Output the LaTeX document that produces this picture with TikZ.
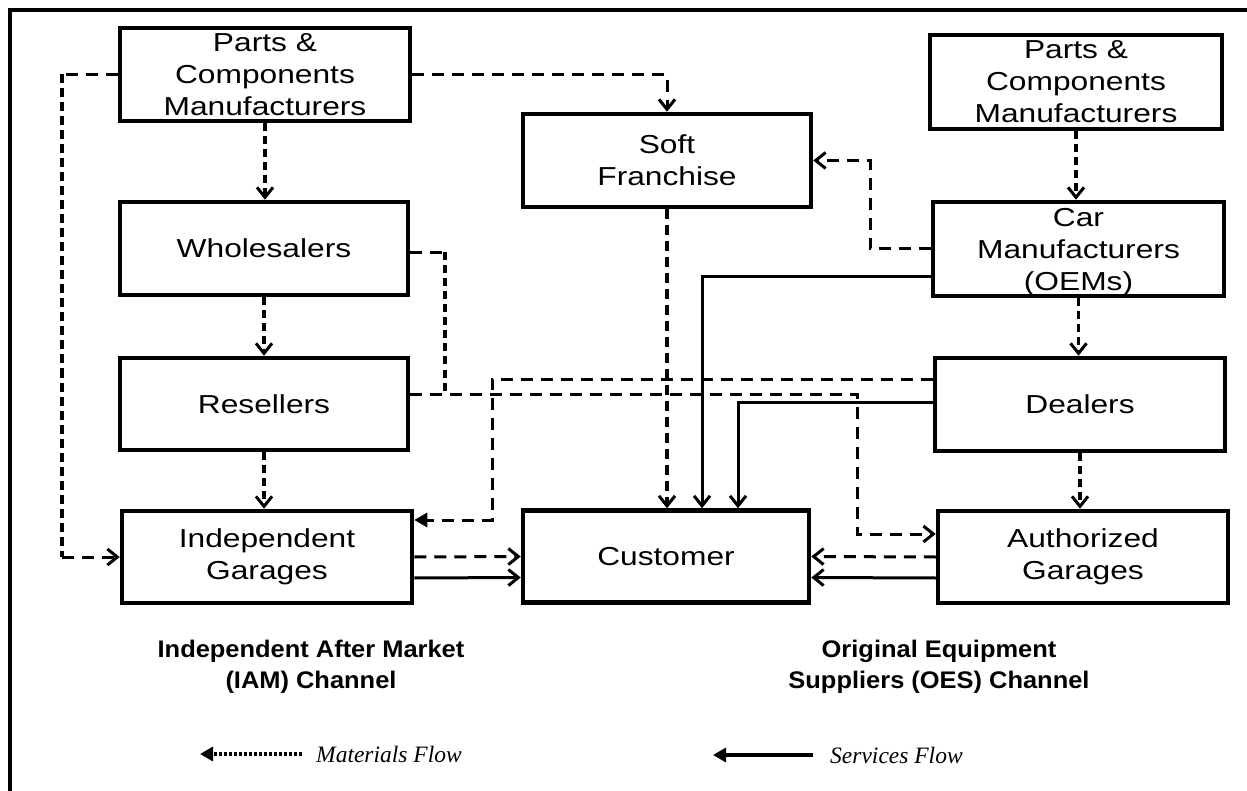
\documentclass[tikz,border=0pt]{standalone}
\usepackage{fontspec}
\setmainfont{Liberation Sans}
\newfontfamily\boxfont{Liberation Sans}[FakeStretch=1.22]
\newfontfamily\labfont{Liberation Sans}[FakeStretch=1.06]
\newfontfamily\legfont{Liberation Serif}
\usetikzlibrary{arrows.meta}
\begin{document}
\begin{tikzpicture}[x=1pt,y=-1pt,
  box/.style={draw, line width=4.5pt, align=center, inner sep=0pt,
    font=\boxfont\fontsize{26}{32}\selectfont},
  vdash/.style={line width=3.8pt, dash pattern=on 8pt off 5pt},
  mdash/.style={line width=3.2pt, dash pattern=on 10pt off 6pt},
  ldash/.style={line width=4.2pt, dash pattern=on 9pt off 5pt},
  hdash/.style={line width=3pt, dash pattern=on 12pt off 8pt},
  solidline/.style={line width=3pt},
  barb/.style={-{Straight Barb[length=10pt,width=16pt,line width=3pt]}},
  tri/.style={-{Triangle[length=13pt,width=14pt]}},
  chan/.style={align=center, font=\labfont\bfseries\fontsize{24}{31}\selectfont},
  leg/.style={anchor=west, inner sep=0pt, font=\legfont\itshape\fontsize{23.5}{28}\selectfont}]
\useasboundingbox (0,0) rectangle (1247,791);
% frame
\draw[line width=3.2pt] (10,791) -- (10,10) -- (1247,10);

% boxes
\node[box, minimum width=290pt, minimum height=93pt] (pcmL) at (265,74.5) {Parts \&\\Components\\Manufacturers};
\node[box, minimum width=288pt, minimum height=93pt] (whole) at (264,248.5) {Wholesalers};
\node[box, minimum width=288pt, minimum height=92pt] (resel) at (264,404) {Resellers};
\node[box, minimum width=290pt, minimum height=92pt] (ig) at (267,557) {Independent\\Garages};
\node[box, minimum width=288pt, minimum height=93pt] (soft) at (667,160.5) {Soft\\Franchise};
\node[box, minimum width=286pt, minimum height=92pt] (cust) at (666,556.5) {Customer};
\node[box, minimum width=292pt, minimum height=94pt] (pcmR) at (1076,82) {Parts \&\\Components\\Manufacturers};
\node[box, minimum width=291pt, minimum height=94pt, text depth=-3pt] (car) at (1078.5,249) {Car\\Manufacturers\\(OEMs)};
\node[box, minimum width=290pt, minimum height=93pt] (deal) at (1080,404.5) {Dealers};
\node[box, minimum width=290pt, minimum height=92pt] (ag) at (1083,557) {Authorized\\Garages};

% IAM chain
\draw[vdash, barb] (pcmL.south) -- (pcmL.south |- whole.north);
\draw[vdash, barb] (whole.south) -- (whole.south |- resel.north);
\draw[vdash, barb] (resel.south) -- (resel.south |- ig.north);

% parts makers straight to independent garages
\coordinate (lt) at (62,74.5);
\coordinate (lb) at (62,557);
\draw[hdash] (pcmL.west) -- (lt);
\draw[ldash] (lt) -- (lb);
\draw[hdash, barb] (lb) -- (ig.west);

% parts makers to soft franchise
\draw[hdash, barb] (pcmL.east) -| (soft.north);

% OES chain
\draw[vdash, barb] (pcmR.south) -- (pcmR.south |- car.north);
\draw[vdash, barb] (car.south) -- (car.south |- deal.north);
\draw[vdash, barb] (deal.south) -- (deal.south |- ag.north);

% car makers to soft franchise
\coordinate (cs) at (870,249);
\draw[hdash, barb] (car.west) -- (cs) |- (soft.east);

% soft franchise to customer
\draw[mdash, barb] (soft.south) -- (soft.south |- cust.north);

% services from car makers and dealers
\draw[solidline, barb] ([yshift=-28pt]car.west) -| ([xshift=36pt]cust.north);
\draw[solidline, barb] ([yshift=2.5pt]deal.west) -| ([xshift=72pt]cust.north);

% dealers to independent garages
\coordinate (dg) at (492,379);
\draw[hdash, tri] ([yshift=25.5pt]deal.west) -- (dg) |- ([yshift=37pt]ig.east);

% wholesalers and resellers to authorized garages
\coordinate (wr) at (445,252.5);
\coordinate (wj) at (445,394);
\coordinate (ra) at (857,394);
\draw[hdash] ([yshift=-4pt]whole.east) -- (wr);
\draw[vdash] (wr) -- (wj);
\draw[hdash, barb] ([yshift=10pt]resel.east) -- (ra) |- ([yshift=23pt]ag.west);

% garages to customer
\draw[hdash, barb] (ig.east) -- (cust.west);
\draw[solidline, barb] ([yshift=-21pt]ig.east) -- ([yshift=-21pt]cust.west);
\draw[hdash, barb] (ag.west) -- (cust.east);
\draw[solidline, barb] ([yshift=-21pt]ag.west) -- ([yshift=-21pt]cust.east);

% channel captions
\node[chan] (iam) at (311,667) {Independent After Market\\(IAM) Channel};
\node[chan] (oes) at (939,667) {Original Equipment\\Suppliers (OES) Channel};

% legend
\coordinate (m1) at (302,754);
\coordinate (m0) at (200,754);
\draw[line width=3.2pt, dash pattern=on 3pt off 2pt, tri] (m1) -- (m0);
\node[leg] (mat) at (316,754) {Materials Flow};
\coordinate (s1) at (813,755);
\coordinate (s0) at (713,755);
\draw[line width=3.2pt, tri] (s1) -- (s0);
\node[leg] (ser) at (830,755) {Services Flow};
\end{tikzpicture}
\end{document}
